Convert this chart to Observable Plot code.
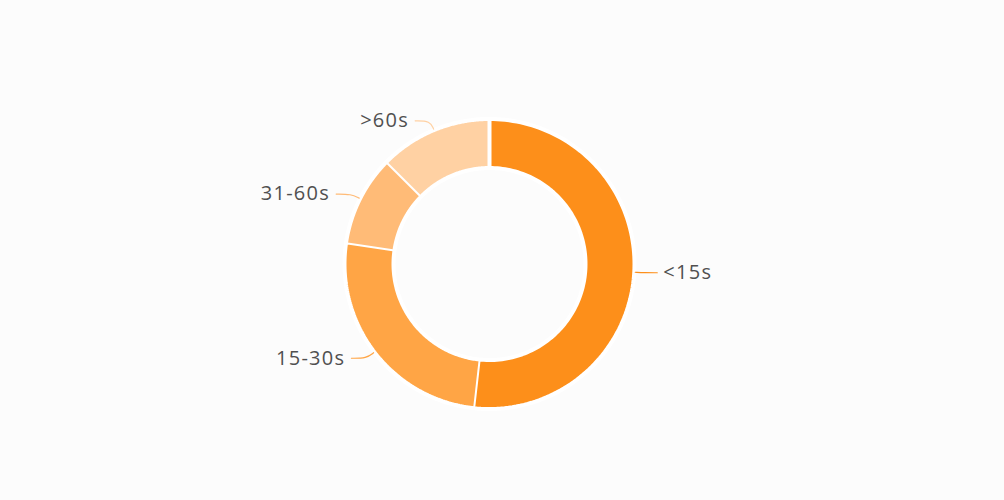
<!DOCTYPE html>
<html>
<head>
<meta charset="utf-8">
<script src="https://cdn.jsdelivr.net/npm/d3@7"></script>
<script src="https://cdn.jsdelivr.net/npm/@observablehq/plot@0.6"></script>
<style>
  html, body { margin: 0; padding: 0; background: #fcfcfc; }
  #chart { width: 1004px; height: 500px; }
</style>
</head>
<body>
<div id="chart"></div>
<script>
// Data
const categories = ["<15s", "15-30s", "31-60s", ">60s"];
const shares = [51.8, 25.6, 10.1, 12.5];
const colors = ["#fd8f1a", "#ffa545", "#ffbb77", "#ffd1a3"];

// Layout constants (pixels)
const W = 1004, H = 500;
const cx = 489, cy = 263.5;
const rIn = 96, rOut = 145;

const pie = d3.pie().sort(null).value(d => d.value)(
  categories.map((c, i) => ({ cat: c, value: shares[i] }))
);

// Slice outlines as polygons in a px-unit coordinate system centered on the donut
const slices = [];
pie.forEach(p => {
  const n = 120;
  const a0 = p.startAngle, a1 = p.endAngle;
  const pts = [];
  for (let k = 0; k <= n; k++) {
    const a = a0 + (a1 - a0) * k / n;
    pts.push([rOut * Math.sin(a), rOut * Math.cos(a)]);
  }
  for (let k = n; k >= 0; k--) {
    const a = a0 + (a1 - a0) * k / n;
    pts.push([rIn * Math.sin(a), rIn * Math.cos(a)]);
  }
  pts.forEach(([x, y]) => slices.push({ cat: p.data.cat, x, y }));
});

// Leader lines and labels
const rEdge = 143;
const leaders = [];
const labels = [];
pie.forEach(p => {
  const m = (p.startAngle + p.endAngle) / 2;
  const s = Math.sin(m), c = Math.cos(m);
  const right = s >= 0;
  const p1 = [(rEdge + 3) * s, (rEdge + 3) * c];
  const p2 = [(rEdge + 12) * s, (rEdge + 12) * c];
  const p3 = [p2[0] + (right ? 13 : -15), p2[1]];
  [p1, p2, p3].forEach(([x, y]) => leaders.push({ cat: p.data.cat, x, y }));
  labels.push({ cat: p.data.cat, x: p3[0] + (right ? 6 : -6), y: p3[1], anchor: right ? "start" : "end" });
});

const chart = Plot.plot({
  width: W,
  height: H,
  margin: 0,
  style: { background: "#fcfcfc", fontFamily: "'Open Sans', 'Noto Sans', sans-serif" },
  x: { domain: [-cx, W - cx], axis: null },
  y: { domain: [cy - H, cy], axis: null },
  color: { domain: categories, range: colors },
  marks: [
    Plot.line(slices, {
      x: "x", y: "y", z: "cat",
      fill: "cat", stroke: "#ffffff", strokeWidth: 4, strokeLinejoin: "miter"
    }),
    Plot.line(leaders, {
      x: "x", y: "y", z: "cat",
      stroke: "cat", strokeWidth: 1.2, curve: "basis"
    }),
    Plot.text(labels.filter(d => d.anchor === "start"), {
      x: "x", y: "y", text: "cat", textAnchor: "start",
      fontSize: 20, fill: "#505050", style: "letter-spacing:1.3px"
    }),
    Plot.text(labels.filter(d => d.anchor === "end"), {
      x: "x", y: "y", text: "cat", textAnchor: "end",
      fontSize: 20, fill: "#505050"
    })
  ]
});
chart.querySelectorAll("text").forEach(t => t.setAttribute("letter-spacing", "1.3"));
document.getElementById("chart").appendChild(chart);
</script>
</body>
</html>
